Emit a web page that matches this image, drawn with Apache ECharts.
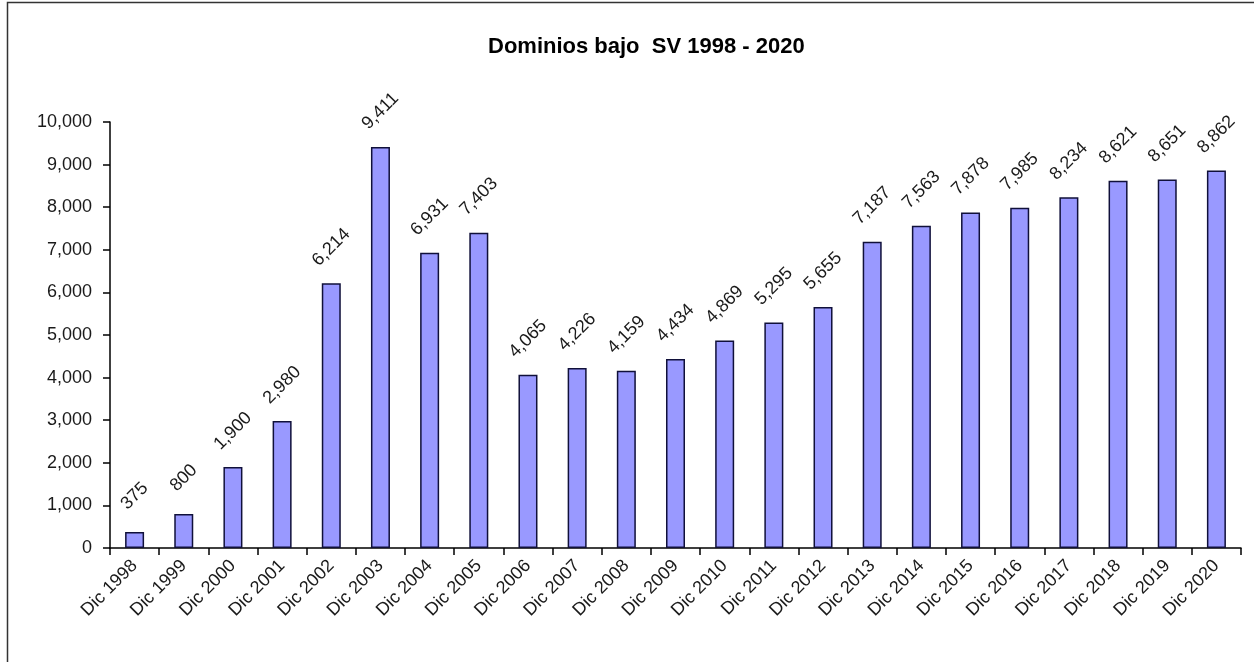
<!DOCTYPE html>
<html><head><meta charset="utf-8">
<script src="https://cdn.jsdelivr.net/npm/echarts@6/dist/echarts.min.js"></script>
<style>html,body{margin:0;padding:0;background:#fff}#c{width:1254px;height:662px}</style>
</head><body><div id="c"></div>
<script>
const categories = ["Dic 1998","Dic 1999","Dic 2000","Dic 2001","Dic 2002","Dic 2003","Dic 2004","Dic 2005","Dic 2006","Dic 2007","Dic 2008","Dic 2009","Dic 2010","Dic 2011","Dic 2012","Dic 2013","Dic 2014","Dic 2015","Dic 2016","Dic 2017","Dic 2018","Dic 2019","Dic 2020"];
const values = [375,800,1900,2980,6214,9411,6931,7403,4065,4226,4159,4434,4869,5295,5655,7187,7563,7878,7985,8234,8621,8651,8862];
const titleText = "Dominios bajo  SV 1998 - 2020";

const fmt = v => v.toLocaleString('en-US');
const chart = echarts.init(document.getElementById('c'), null, {renderer:'canvas'});
const FONT = 'Liberation Sans, Arial, sans-serif';
chart.setOption({
  animation:false,
  backgroundColor:'#fff',
  title:{text:titleText,left:483,top:31,textStyle:{fontFamily:FONT,fontSize:22,fontWeight:'bold',color:'#000'}},
  graphic:[{type:'rect',shape:{x:7.5,y:2.5,width:1260,height:680},style:{fill:'none',stroke:'#333',lineWidth:1.5},silent:true,z:-1}],
  grid:{left:110,right:13,top:122,bottom:114},
  xAxis:{type:'category',data:categories,boundaryGap:true,
    axisLine:{lineStyle:{color:'#000',width:1.5}},
    axisTick:{show:true,alignWithLabel:false,length:7,lineStyle:{color:'#000',width:1.5}},
    axisLabel:{rotate:45,fontFamily:FONT,fontSize:18,color:'#1a1a1a',margin:15,interval:0}},
  yAxis:{type:'value',min:0,max:10000,interval:1000,
    axisLine:{show:true,lineStyle:{color:'#000',width:1.5}},
    axisTick:{show:true,length:7,lineStyle:{color:'#000',width:1.5}},
    splitLine:{show:false},
    axisLabel:{fontFamily:FONT,fontSize:18,color:'#1a1a1a',margin:18,formatter:v=>fmt(v)}},
  series:[{type:'bar',data:values,barWidth:19,
    itemStyle:{color:'#9999FF',borderColor:'#10103a',borderWidth:1.5},
    label:{show:true,position:'top',distance:36,rotate:45,align:'center',verticalAlign:'middle',
      fontFamily:FONT,fontSize:18,color:'#1a1a1a',formatter:p=>fmt(p.value)}}]
});
</script></body></html>
